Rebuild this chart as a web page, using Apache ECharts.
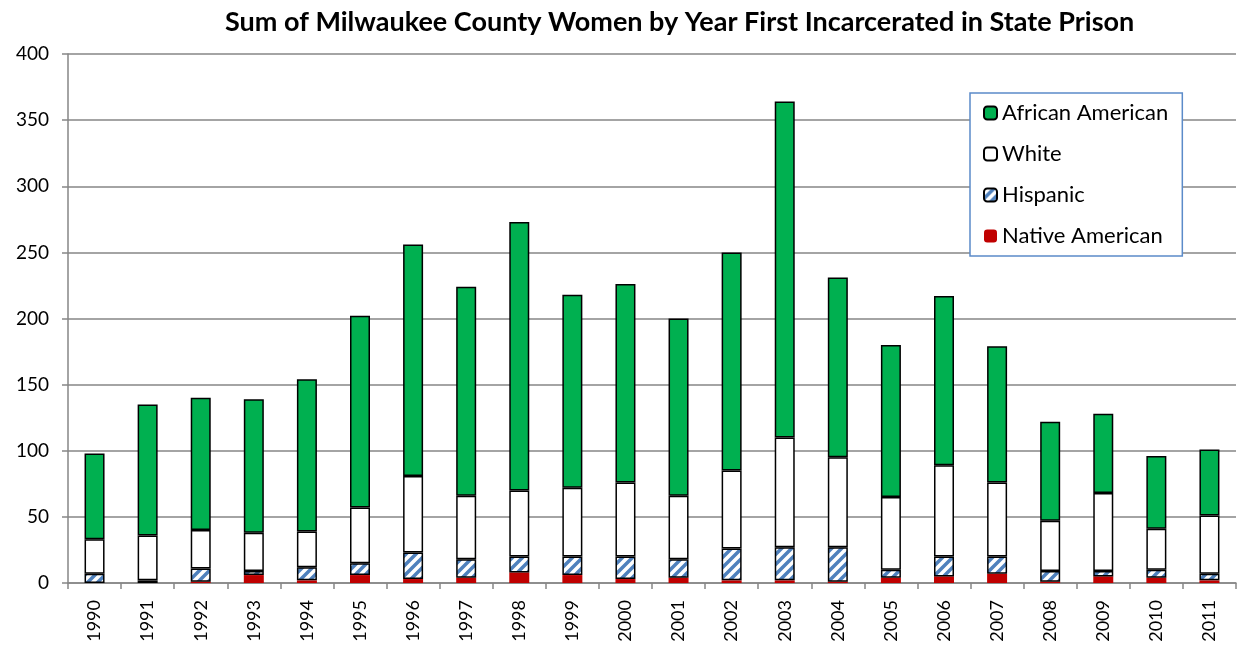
<!DOCTYPE html>
<html>
<head>
<meta charset="utf-8">
<script src="https://cdn.jsdelivr.net/npm/echarts@6/dist/echarts.min.js"></script>
<style>html,body{margin:0;padding:0;background:#fff;}#c{width:1243px;height:650px;}</style>
</head>
<body>
<div id="c"></div>
<script>
var years = ['1990','1991','1992','1993','1994','1995','1996','1997','1998','1999','2000','2001','2002','2003','2004','2005','2006','2007','2008','2009','2010','2011'];
var nativeAmerican = [0,0,1,6,2,6,3,4,8,6,3,4,2,2,1,4,5,7,1,5,4,2];
var hispanic = [7,2,10,3,10,9,20,14,12,14,17,14,24,25,26,6,15,13,8,4,6,5];
var white = [26,34,29,29,27,42,58,48,50,52,56,48,59,83,68,55,69,56,38,59,31,44];
var africanAmerican = [65,99,100,101,115,145,175,158,203,146,150,134,165,254,136,115,128,103,75,60,55,50];
var yTicks = [0,50,100,150,200,250,300,350,400];

var FONT = 'Lato';
var P = 10;
var pc = document.createElement('canvas');
pc.width = P; pc.height = P;
var g = pc.getContext('2d');
g.fillStyle = '#ffffff'; g.fillRect(0,0,P,P);
g.strokeStyle = '#4F81BD'; g.lineWidth = 3.5;
g.beginPath();
for (var k = -1; k <= 1; k++) {
  g.moveTo(k*P - 2, P + 2);
  g.lineTo(k*P + P + 2, -2);
}
g.stroke();

var chart = echarts.init(document.getElementById('c'));
var border = {borderColor:'#000', borderWidth:1.5};
chart.setOption({
  animation:false,
  textStyle:{fontFamily:FONT},
  title:{text:'Sum of Milwaukee County Women by Year First Incarcerated in State Prison', left:220, top:4,
    textStyle:{fontFamily:FONT, fontWeight:'bold', fontSize:27, color:'#000'}},
  grid:{left:68, right:7, top:54, bottom:67},
  legend:{orient:'vertical', left:970, top:93, padding:[9,14,9,13],
    itemWidth:13, itemHeight:13, itemGap:19, itemTextGap:7, borderColor:'#5B8BC9', borderWidth:1.5,
    backgroundColor:'#fff',
    textStyle:{fontFamily:FONT, fontSize:22, color:'#000', lineHeight:22},
    data:['African American','White','Hispanic','Native American']},
  xAxis:{type:'category', data:years,
    axisLine:{lineStyle:{color:'#868686', width:1.5}},
    axisTick:{show:true, length:6, lineStyle:{color:'#868686', width:1.5}},
    axisLabel:{rotate:90, fontSize:18, color:'#000', margin:17, fontFamily:FONT}},
  yAxis:{type:'value', min:yTicks[0], max:yTicks[yTicks.length-1], interval:50,
    axisLine:{show:true, lineStyle:{color:'#868686', width:1.5}},
    axisTick:{show:true, length:6, lineStyle:{color:'#868686', width:1.5}},
    splitLine:{lineStyle:{color:'#868686', width:1.5}},
    axisLabel:{fontSize:19, color:'#000', margin:19, fontFamily:FONT}},
  series:[
    {name:'Native American', type:'bar', stack:'a', data:nativeAmerican, barWidth:20,
      itemStyle:{color:'#C00000', borderWidth:0}},
    {name:'Hispanic', type:'bar', stack:'a', data:hispanic, barWidth:20,
      itemStyle:Object.assign({color:{image:pc, repeat:'repeat'}}, border)},
    {name:'White', type:'bar', stack:'a', data:white, barWidth:20,
      itemStyle:Object.assign({color:'#ffffff'}, border)},
    {name:'African American', type:'bar', stack:'a', data:africanAmerican, barWidth:20,
      itemStyle:Object.assign({color:'#00B050'}, border)}
  ]
});
</script>
</body>
</html>
